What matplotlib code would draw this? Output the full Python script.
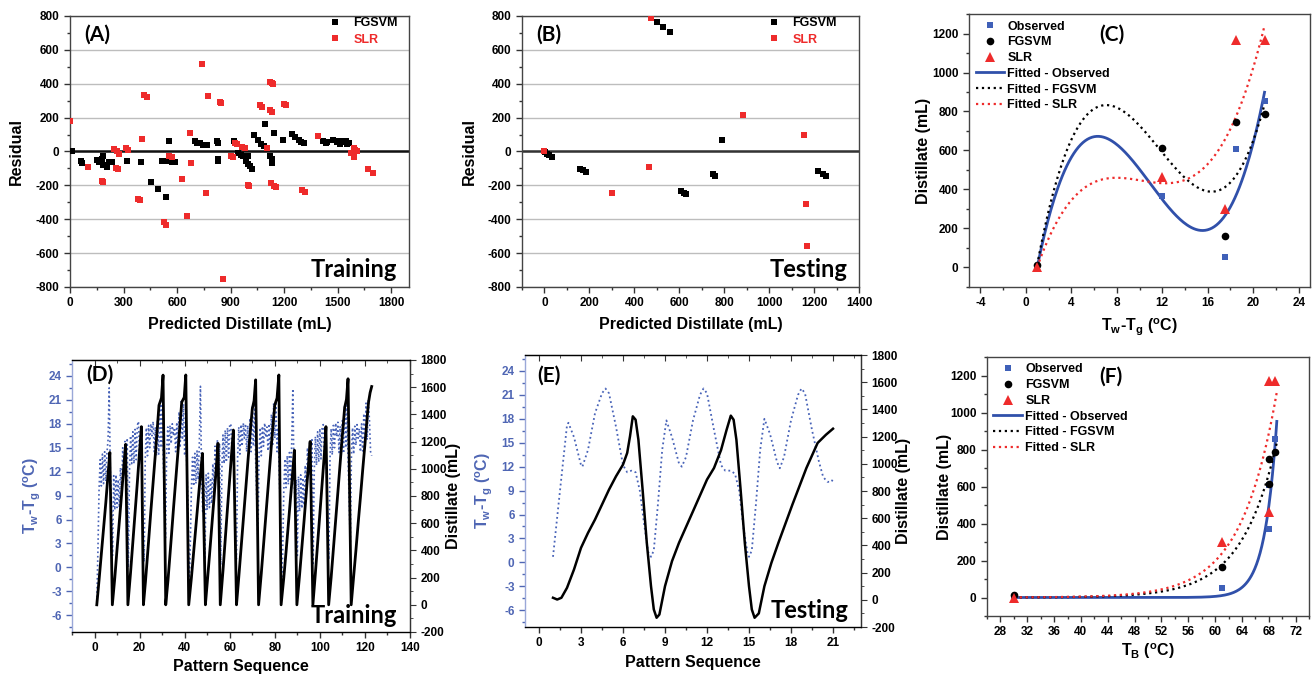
import numpy as np
import matplotlib
matplotlib.use('Agg')
import matplotlib.pyplot as plt
from matplotlib.ticker import MultipleLocator
from matplotlib.lines import Line2D

plt.rcParams['font.family'] = ['Liberation Sans', 'DejaVu Sans']
plt.rcParams['font.weight'] = 'bold'
plt.rcParams['axes.labelweight'] = 'bold'
plt.rcParams['axes.unicode_minus'] = False
plt.rcParams['mathtext.fontset'] = 'custom'
plt.rcParams['mathtext.rm'] = 'Liberation Sans:bold'
plt.rcParams['mathtext.it'] = 'Liberation Sans:bold'
plt.rcParams['mathtext.bf'] = 'Liberation Sans:bold'

RED = '#ee2b2b'
BLUE = '#3f60b8'
BLUE_LINE = '#3050aa'
BLUE_DOT = '#4863b8'
BLUE_TXT = '#4f66b4'

# ---------------- (A) training residuals ----------------
a_fg_x = [9, 60, 69, 153, 164, 177, 187, 183, 196, 205, 219, 233, 321, 396, 452, 495, 538, 555,
          514, 533, 551, 570, 589, 700, 709, 728, 747, 766, 822, 831, 828, 831, 920, 944, 959,
          972, 996, 985, 1000, 1009, 1022, 1034, 1056, 1071, 1090, 1103, 1093, 1121, 1131, 1134,
          1144, 1193, 1243, 1262, 1281, 1296, 1312, 1420, 1433, 1440, 1476, 1494, 1500, 1513,
          1520, 1532, 1545, 1551, 1564]
a_fg_y = [0, -58, -67, -53, -63, -47, -28, -79, -77, -92, -63, -63, -57, -63, -181, -224, -269, 61,
          -57, -57, -57, -63, -63, 61, 51, 51, 41, 41, 61, 51, -47, -57, 61, -8, -18,
          -27, -27, -57, -71, -86, -102, 100, 67, 47, 31, 22, 165, -27, -47, -67,
          110, 67, 106, 86, 67, 55, 51, 61, 51, 55, 67, 55, 60, 47,
          60, 55, 60, 47, 51]
a_slr_x = [0, 99, 177, 183, 249, 262, 275, 256, 267, 312, 327, 383, 392, 405, 417, 430, 525, 538,
           555, 570, 626, 654, 673, 679, 741, 763, 776, 841, 846, 860, 901, 916, 925, 935, 966,
           981, 1000, 1005, 1065, 1078, 1103, 1121, 1131, 1140, 1121, 1134, 1127, 1146, 1154,
           1200, 1210, 1302, 1317, 1389, 1575, 1590, 1600, 1610, 1590, 1673, 1701]
a_slr_y = [178, -92, -175, -181, 12, 2, -12, -96, -106, 22, 8, -280, -287, 75, 334, 324, -419, -432,
           -24, -31, -165, -381, 110, -67, 517, -244, 330, 292, 287, -750, -24, -31, 51, 47, 29,
           20, -200, -204, 275, 262, 22, 413, 405, 400, 247, 232, -185, -204, -208,
           283, 277, -225, -240, 90, -10, -30, 10, 0, 20, -102, -126]

# ---------------- (B) testing residuals ----------------
b_fg_x = [4, 10, 19, 34, 159, 171, 183, 501, 528, 557, 609, 620, 632, 748, 758, 788, 1219, 1238, 1253]
b_fg_y = [-4, -12, -20, -31, -102, -110, -122, 764, 738, 705, -234, -243, -253, -135, -145, 67,
          -116, -130, -145]
b_slr_x = [0, 302, 465, 475, 884, 1156, 1164, 1167]
b_slr_y = [2, -247, -92, 787, 218, 100, -312, -557]

# ---------------- (C) / (F) observed vs predicted ----------------
tw_tg = [1, 12, 17.5, 18.5, 21]
t_b = [30, 68, 61, 68, 69]
observed = [0, 368, 53, 607, 856]
fgsvm = [12, 612, 164, 748, 787]
slr = [0, 464, 302, 1169, 1169]

# ---------------- (D) training sequence ----------------
d_blue_g1 = [-4.3, 2.0, 9.7, 13.5, 10.2, 14.2, 10.5, 14.5, 10.8, 14.3, 16.0, 22.5, 12.0, 8.0, 1.5,
             11.5, 7.2, 11.6, 7.5, 11.0, 7.5, 12.5, 9.0, 15.0, 11.5, 15.8, 12.0, 16.2, 0.0,
             12.0, 16.5, 13.0, 17.0, 13.0, 17.3, 13.5, 17.8, 18.3, 14.0, 17.0, 12.0, 5.0, 0.7,
             13.5, 17.5, 14.0, 17.8, 15.0, 18.0, 16.5, 18.3, 14.5, 17.6, 14.0, 18.5, 14.2, 20.5,
             15.0, 20.8, 14.0, 8.0, 3.7,
             14.5, 17.6, 14.3, 17.8, 15.5, 18.0, 16.5, 17.5, 14.5, 18.2, 14.5, 19.5, 15.0, 20.8,
             16.0, 20.5, 14.0, 18.0, 12.0, 7.7, -3.0]
d_blue_g2 = [3.0, 10.0, 13.8, 10.2, 14.3, 10.5, 14.6, 11.0, 15.5, 22.7, 11.5, 7.0, 10.5, 1.0,
             11.6, 7.2, 11.8, 7.5, 11.2, 8.0, 13.0, 9.5, 15.2, 11.8, 16.0, 12.0, 15.5, 0.3,
             12.2, 16.6, 13.0, 17.2, 13.2, 17.5, 13.8, 17.9, 18.0, 14.2, 16.8, 11.5, 4.5, 1.0,
             13.8, 17.6, 14.2, 17.9, 15.2, 18.1, 16.2, 18.0, 14.5, 17.8, 14.2, 18.7, 14.5, 20.3,
             15.2, 20.6, 13.5, 8.5, 3.5,
             14.2, 17.5, 14.0, 17.7, 15.2, 18.1, 16.3, 17.6, 14.6, 18.0, 14.8, 19.2, 15.2, 20.6,
             16.2, 20.8, 14.5, 17.5, 11.5, 7.0, -2.5]
d_blue_g3 = [2.0, 9.8, 13.6, 10.0, 14.0, 10.4, 14.4, 10.8, 15.5, 22.4, 12.0, 7.5, 11.0, 1.5,
             11.4, 7.0, 11.6, 7.4, 11.2, 7.8, 12.8, 9.2, 15.0, 11.6, 15.6, 12.2, 16.0, 0.5,
             12.0, 16.4, 12.8, 17.0, 13.2, 17.4, 13.6, 17.7, 17.9, 14.0, 16.8, 11.8, 5.5, 1.0,
             13.6, 17.4, 14.1, 17.8, 15.0, 18.1, 16.4, 18.2, 14.4, 17.7, 14.1, 18.4, 14.3, 20.2,
             15.0, 20.6, 13.8, 8.2, 3.0,
             14.0, 17.5, 14.2, 17.7, 15.3, 17.9, 16.2, 17.4, 14.5, 18.0, 14.6, 19.3, 15.4, 20.6,
             16.0, 21.0, 18.5, 14.5, 14.0]
d_blue_y = d_blue_g1 + d_blue_g2 + d_blue_g3
d_blue_x = np.arange(1, 123.01, 0.5)

d_dist_x = [1, 2, 3, 4, 5, 6, 6.8, 7.9,
            9, 10, 11, 12, 13, 13.8, 14.8,
            16, 17, 18, 19, 20, 20.8, 21.7,
            22.6, 24, 25, 26, 27, 28, 28.6, 29.7, 30.4, 31.6,
            32.6, 34, 35, 36, 37, 38, 38.7, 39.8, 40.5, 41.8,
            43, 44, 45, 46, 47, 47.9, 49.2,
            50, 51, 52, 53, 54, 54.8, 55.8,
            57, 58, 59, 60, 61, 61.6, 63,
            64, 65, 66, 67, 68, 69, 70, 70.8, 71.5, 72.8,
            74, 75, 76, 77, 78, 79, 80, 81, 81.8, 82.8,
            84, 85, 86, 87, 88, 88.7, 89.8,
            91, 92, 93, 94, 95, 95.7, 96.9,
            98, 99, 100, 101, 102, 102.7, 103.9,
            105, 106, 107, 108, 109, 110, 111, 111.8, 112.5, 113.9,
            115, 116, 117, 118, 119, 120, 121, 121.6, 122.3, 123]
d_dist_y = [0, 180, 370, 560, 750, 960, 1120, 0,
            200, 410, 610, 810, 1020, 1180, 0,
            240, 460, 680, 900, 1130, 1310, 0,
            170, 470, 690, 900, 1110, 1330, 1467, 1521, 1689, 0,
            180, 480, 700, 910, 1120, 1340, 1490, 1525, 1690, 0,
            200, 390, 580, 770, 960, 1113, 0,
            160, 360, 570, 780, 1000, 1187, 0,
            250, 480, 710, 930, 1150, 1285, 0,
            200, 410, 620, 830, 1040, 1250, 1440, 1500, 1654, 0,
            230, 440, 650, 860, 1070, 1280, 1470, 1520, 1690, 0,
            200, 390, 590, 790, 990, 1137, 0,
            220, 420, 620, 830, 1040, 1201, 0,
            230, 450, 670, 890, 1110, 1310, 0,
            200, 410, 620, 830, 1040, 1250, 1450, 1510, 1662, 0,
            210, 400, 600, 790, 990, 1180, 1380, 1490, 1560, 1605]

# ---------------- (E) testing sequence ----------------
e_blue_x = [1.0, 1.5, 2.0, 2.1, 2.5, 3.0, 3.1, 3.5, 4.0, 4.5, 4.75, 5.0, 5.5, 6.0, 6.3, 6.6, 6.9,
            7.2, 7.5, 7.8, 8.0, 8.2, 8.5, 8.8, 9.1, 9.5, 10.0, 10.2, 10.5, 11.0, 11.5, 11.75,
            12.0, 12.5, 13.0, 13.3, 13.7, 14.0, 14.3, 14.6, 14.9, 15.0, 15.2, 15.5, 15.8, 16.1,
            16.5, 17.0, 17.2, 17.5, 18.0, 18.5, 18.75, 19.0, 19.5, 20.0, 20.3, 20.6, 20.9, 21.0]
e_blue_y = [0.7, 9.0, 17.2, 17.5, 15.7, 12.2, 12.0, 14.1, 18.7, 21.2, 21.8, 21.2, 17.0, 12.2, 11.3,
            11.5, 11.3, 9.0, 4.9, 1.3, 0.7, 1.5, 7.4, 14.1, 17.8, 15.7, 12.4, 12.0, 13.2, 17.8,
            21.0, 21.8, 21.2, 16.6, 12.2, 11.5, 11.5, 11.1, 9.0, 4.4, 1.1, 0.7, 1.5, 7.4, 14.1,
            18.0, 16.1, 12.6, 11.8, 13.2, 17.8, 21.0, 21.8, 21.2, 16.6, 12.6, 10.7, 10.1, 10.1,
            10.5]
e_dist_x = [1.0, 1.3, 1.6, 2.0, 2.5, 3.0, 3.5, 4.0, 4.5, 5.0, 5.5, 6.0, 6.3, 6.5, 6.7, 6.9, 7.1,
            7.4, 7.7, 8.0, 8.2, 8.4, 8.6, 9.0, 9.5, 10.0, 11.0, 12.0, 12.5, 13.0, 13.4, 13.7,
            13.9, 14.1, 14.4, 14.7, 15.0, 15.2, 15.4, 15.7, 16.1, 16.6, 17.1, 18.1, 19.1, 19.9,
            20.5, 21.0]
e_dist_y = [15, 2, 15, 88, 223, 382, 492, 590, 700, 810, 908, 994, 1080, 1202, 1349, 1324, 1177,
            810, 419, 100, -71, -132, -108, 100, 284, 419, 651, 884, 969, 1100, 1250, 1354,
            1324, 1177, 810, 419, 100, -71, -132, -100, 100, 272, 419, 700, 969, 1153,
            1214, 1258]

fig = plt.figure(figsize=(13.13, 6.75), dpi=100)
W, H = 1313.0, 675.0


def box(l, r, t, b):
    return [l / W, 1 - b / H, (r - l) / W, (b - t) / H]


def ticks(ax, xmaj, xmin, ymaj, ymin, color='black'):
    ax.xaxis.set_major_locator(MultipleLocator(xmaj))
    ax.xaxis.set_minor_locator(MultipleLocator(xmin))
    ax.yaxis.set_major_locator(MultipleLocator(ymaj))
    ax.yaxis.set_minor_locator(MultipleLocator(ymin))
    ax.tick_params(which='both', direction='out', labelsize=8.5, width=1, color='#333333')
    ax.tick_params(which='major', length=4)
    ax.tick_params(which='minor', length=2.5)
    for s in ax.spines.values():
        s.set_color('#444444')
        s.set_linewidth(1)


def tag(ax, x, y, s, ha='center', size=15):
    ax.text(x, y, s, transform=ax.transAxes, ha=ha, va='center', fontsize=size,
            fontfamily=['Lato', 'DejaVu Sans'], fontweight='bold', zorder=10)


def residual_panel(pos, fx, fy, sx, sy, xlim, xmaj, xmin, letter, word, legx):
    ax = fig.add_axes(pos)
    ax.set_axisbelow(True)
    ax.yaxis.grid(True, color='#bdbdbd', lw=1)
    ax.axhline(0, color='#111111', lw=1.8, zorder=2)
    ax.plot(fx, fy, 's', color='black', ms=4.5, mew=0, zorder=3, label='FGSVM')
    ax.plot(sx, sy, 's', color=RED, ms=4.5, mew=0, zorder=3, label='SLR')
    ax.set_xlim(*xlim)
    ax.set_ylim(-800, 800)
    ticks(ax, xmaj, xmin, 200, 100)
    ax.set_ylabel('Residual', fontsize=11.5)
    ax.set_xlabel('Predicted Distillate (mL)', fontsize=11.5)
    ax.yaxis.set_label_coords(-0.135, 0.5)
    ax.xaxis.set_label_coords(0.5, -0.11)
    ax.legend(loc='upper right', bbox_to_anchor=(legx, 1.005), frameon=False, fontsize=9,
              labelcolor=['black', RED], handlelength=1.0, handletextpad=1.0,
              borderaxespad=0, borderpad=0.2, labelspacing=0.35, markerscale=1.0)
    tag(ax, 0.08, 0.93, letter)
    tag(ax, 0.965, 0.065, word, ha='right', size=17)
    return ax


axA = residual_panel(box(70, 409, 16, 287), a_fg_x, a_fg_y, a_slr_x, a_slr_y, (0, 1900),
                     300, 150, '(A)', 'Training', 0.975)
axB = residual_panel(box(522, 859, 16, 287), b_fg_x, b_fg_y, b_slr_x, b_slr_y, (-100, 1400),
                     200, 100, '(B)', 'Testing', 0.942)
axB.lines[0].set_color('#333333')


def fit_panel(pos, xv, xlim, xmaj, xmin, xlabel, letter, letx, curves, xs):
    ax = fig.add_axes(pos)
    ax.plot(xs, curves[0], '-', color=BLUE_LINE, lw=2, label='Fitted - Observed', zorder=2)
    ax.plot(xs, curves[1], ':', color='black', lw=1.6, label='Fitted - FGSVM', zorder=2)
    ax.plot(xs, curves[2], ':', color=RED, lw=1.6, label='Fitted - SLR', zorder=2)
    ax.plot(xv, observed, 's', color=BLUE, ms=5, mew=0, zorder=3)
    ax.plot(xv, fgsvm, 'o', color='black', ms=5.5, mew=0, zorder=3)
    ax.plot(xv, slr, '^', color=RED, ms=6.5, mew=0, zorder=3)
    ax.set_xlim(*xlim)
    ax.set_ylim(-100, 1300)
    ticks(ax, xmaj, xmin, 200, 100)
    ax.set_ylabel('Distillate (mL)', fontsize=11.5)
    ax.set_xlabel(xlabel, fontsize=11.5)
    handles = [Line2D([], [], ls='none', marker='s', color=BLUE, ms=5, mew=0),
               Line2D([], [], ls='none', marker='o', color='black', ms=5.5, mew=0),
               Line2D([], [], ls='none', marker='^', color=RED, ms=6.5, mew=0),
               Line2D([], [], ls='-', color=BLUE_LINE, lw=2),
               Line2D([], [], ls=':', color='black', lw=1.6),
               Line2D([], [], ls=':', color=RED, lw=1.6)]
    labels = ['Observed', 'FGSVM', 'SLR', 'Fitted - Observed', 'Fitted - FGSVM', 'Fitted - SLR']
    ax.legend(handles, labels, loc='upper left', bbox_to_anchor=(0.012, 0.985), frameon=False,
              fontsize=9, handlelength=2.3, handletextpad=0.25, borderaxespad=0,
              borderpad=0.2, labelspacing=0.3, numpoints=1)
    tag(ax, letx, 0.925, letter)
    return ax


# (C) cubic polynomial fits
xc = np.linspace(1, 21, 200)
c_curves = [np.polyval(np.polyfit(tw_tg, v, 3), xc) for v in (observed, fgsvm, slr)]
axC = fit_panel(box(969, 1310, 14, 287), tw_tg, (-5, 25), 4, 2,
                r'T$_{w}$-T$_{g}$ ($^{o}$C)', '(C)', 0.42, c_curves, xc)
axC.yaxis.set_label_coords(-0.11, 0.5)
axC.xaxis.set_label_coords(0.5, -0.11)


# (F) exponential growth fits y = A*exp(b*x)
def exp_fit(x, y, xs):
    x = np.asarray(x, float)
    y = np.asarray(y, float)
    best = None
    for b in np.linspace(0.02, 1.2, 3000):
        e = np.exp(b * (x - 60))
        a = (e @ y) / (e @ e)
        sse = ((a * e - y) ** 2).sum()
        if best is None or sse < best[0]:
            best = (sse, b, a)
    _, b, a = best
    return a * np.exp(b * (xs - 60))


xf = np.linspace(30, 69.2, 300)
f_curves = [exp_fit(t_b, v, xf) for v in (observed, fgsvm, slr)]
axF = fit_panel(box(987, 1309, 357, 616), t_b, (26, 74), 4, 2,
                r'T$_{B}$ ($^{o}$C)', '(F)', 0.385, f_curves, xf)
axF.yaxis.set_label_coords(-0.11, 0.5)
axF.xaxis.set_label_coords(0.5, -0.097)


def sequence_panel(pos, bx, by, dx, dy, xlim, xmaj, xmin, letter, letx, lety, word,
                   bluelw, dotlw, lab_l, lab_r, labx):
    ax = fig.add_axes(pos)
    ax.plot(bx, by, ':', color=BLUE_DOT, lw=dotlw, zorder=2)
    ax.set_xlim(*xlim)
    ax.set_ylim(-8.1, 26)
    ticks(ax, xmaj, xmin, 3, 1.5)
    ax.tick_params(axis='y', which='both', colors=BLUE_TXT)
    ax.spines['left'].set_color('#9aa8d8')
    ax.set_ylabel(r'T$_{w}$-T$_{g}$ ($^{o}$C)', fontsize=11.5, color=BLUE_TXT)
    ax.yaxis.set_label_coords(lab_l, 0.5)
    ax.set_xlabel('Pattern Sequence', fontsize=11.5)
    ax.xaxis.set_label_coords(0.5, labx)
    top = ax.secondary_xaxis('top')
    top.xaxis.set_major_locator(MultipleLocator(xmaj))
    top.xaxis.set_minor_locator(MultipleLocator(xmin))
    top.tick_params(which='both', direction='in', labeltop=False, color='#333333')
    top.tick_params(which='major', length=4)
    top.tick_params(which='minor', length=2.5)
    top.spines['top'].set_color('#444444')
    ax2 = ax.twinx()
    ax2.plot(dx, dy, '-', color='black', lw=bluelw, zorder=3)
    ax2.set_ylim(-200, 1800)
    ax2.yaxis.set_major_locator(MultipleLocator(200))
    ax2.yaxis.set_minor_locator(MultipleLocator(100))
    ax2.tick_params(which='both', direction='out', labelsize=8.5, color='#333333')
    ax2.tick_params(which='major', length=4)
    ax2.tick_params(which='minor', length=2.5)
    ax2.spines['right'].set_color('#333333')
    ax2.spines['left'].set_visible(False)
    ax2.set_ylabel('Distillate (mL)', fontsize=11.5)
    ax2.yaxis.set_label_coords(lab_r, 0.5)
    tag(ax2, letx, lety, letter)
    tag(ax2, 0.962, 0.06, word, ha='right', size=17)
    return ax, ax2


axD, axD2 = sequence_panel(box(72, 410, 360, 632), d_blue_x, d_blue_y, d_dist_x, d_dist_y,
                           (-10, 140), 20, 10, '(D)', 0.083, 0.945, 'Training', 2.0, 1.2,
                           -0.085, 1.107, -0.10)
axE, axE2 = sequence_panel(box(525, 861, 355, 627), e_blue_x, e_blue_y, e_dist_x, e_dist_y,
                           (-1, 23), 3, 1.5, '(E)', 0.072, 0.923, 'Testing', 1.8, 1.3,
                           -0.088, 1.104, -0.103)

fig.savefig('out.png', dpi=100, facecolor='white')
